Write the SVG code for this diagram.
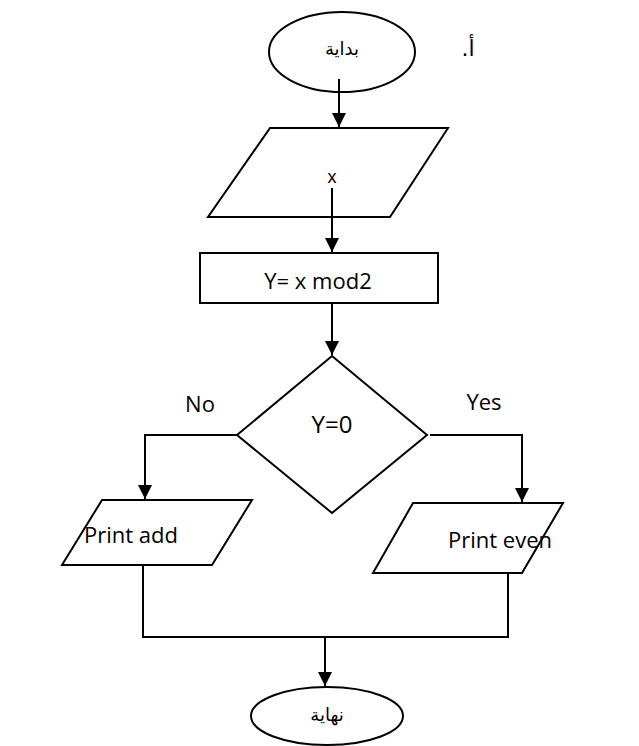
<svg xmlns="http://www.w3.org/2000/svg" width="639" height="746" viewBox="0 0 639 746">
<defs>
<marker id="ah" viewBox="0 0 14 14" refX="14" refY="7" markerWidth="14" markerHeight="14" markerUnits="userSpaceOnUse" orient="auto">
<path d="M0,0 L14,7 L0,14 z" fill="#000"/>
</marker>
<style>
.s{fill:#fff;stroke:#000;stroke-width:2}
.c{fill:none;stroke:#000;stroke-width:2}
.a{marker-end:url(#ah)}
.t{font-family:"Open Sans","Noto Sans",sans-serif;fill:#000;text-anchor:middle}
.ar{font-family:"DejaVu Sans","Noto Sans",sans-serif;fill:#000;text-anchor:middle}
</style>
</defs>
<rect width="639" height="746" fill="#fff"/>
<g id="start">
<ellipse class="s" cx="342" cy="52" rx="73" ry="40"/>
<text class="ar" x="342" y="55" font-size="18">بداية</text>
</g>
<text class="ar" x="468" y="56" font-size="22" direction="rtl">أ.</text>
<g id="input">
<polygon class="s" points="270,128 448,128 390,217 208,217"/>
<text x="332" y="183" font-family="Liberation Sans, Arial, sans-serif" font-size="18" text-anchor="middle">x</text>
</g>
<g id="process">
<rect class="s" x="200" y="253" width="238" height="50"/>
<text class="t" x="318" y="289" font-size="22">Y= x mod2</text>
</g>
<g id="decision">
<polygon class="s" points="332,356 427,435 332,513 237,435"/>
<text class="t" x="332" y="433" font-size="24">Y=0</text>
</g>
<text class="t" x="200" y="412" font-size="22">No</text>
<text class="t" x="484" y="410" font-size="22">Yes</text>
<g id="printOdd">
<polygon class="s" points="102,500 252,500 212,565 62,565"/>
<text class="t" x="131" y="543" font-size="22">Print add</text>
</g>
<g id="printEven">
<polygon class="s" points="413,503 563,503 522,573 373,573"/>
<text class="t" x="500" y="548" font-size="22">Print even</text>
</g>
<g id="end">
<ellipse class="s" cx="327" cy="716" rx="76" ry="29"/>
<text class="ar" x="327" y="721" font-size="18">نهاية</text>
</g>
<g id="connectors">
<line class="c a" x1="339" y1="79" x2="339" y2="127"/>
<line class="c a" x1="332" y1="188" x2="332" y2="252"/>
<line class="c a" x1="332" y1="303" x2="332" y2="355"/>
<polyline class="c a" points="237,435 145,435 145,499"/>
<polyline class="c a" points="430,435 522,435 522,502"/>
<line class="c" x1="143" y1="566" x2="143" y2="638"/>
<line class="c" x1="508" y1="574" x2="508" y2="638"/>
<line class="c" x1="142" y1="637" x2="509" y2="637"/>
<line class="c a" x1="325" y1="638" x2="325" y2="686"/>
</g>
</svg>
